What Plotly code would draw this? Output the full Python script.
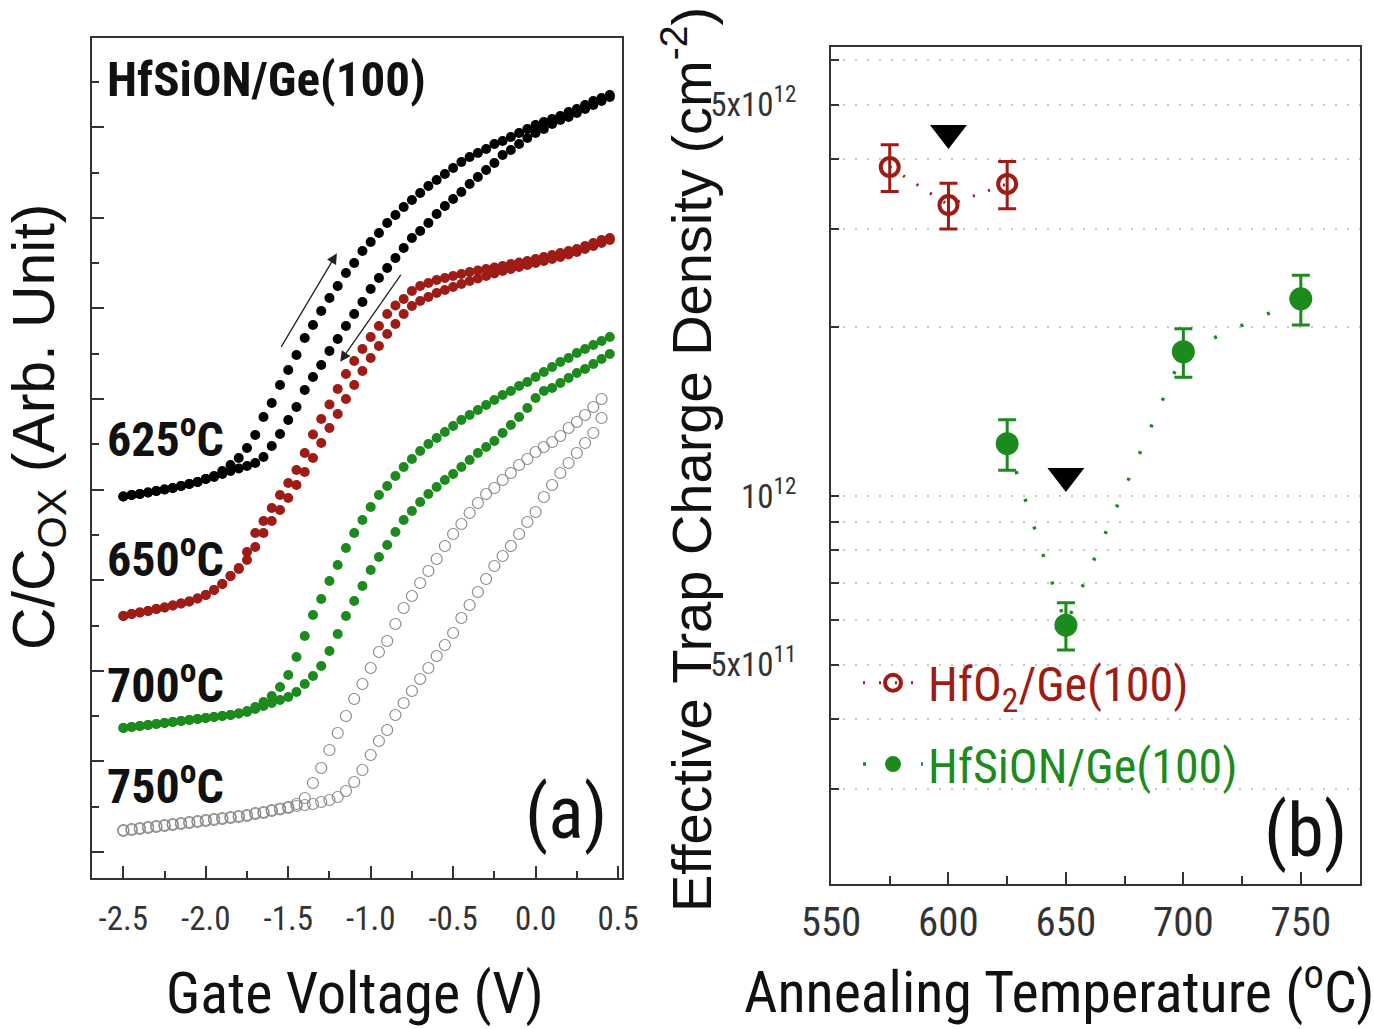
import plotly.graph_objects as go

# ---------------- Panel (a): C-V hysteresis curves ----------------
gate_voltage = [-2.50, -2.45, -2.40, -2.35, -2.30, -2.25, -2.20, -2.15, -2.10, -2.05,
                -2.00, -1.95, -1.90, -1.85, -1.80, -1.75, -1.70, -1.65, -1.60, -1.55,
                -1.50, -1.45, -1.40, -1.35, -1.30, -1.25, -1.20, -1.15, -1.10, -1.05,
                -1.00, -0.95, -0.90, -0.85, -0.80, -0.75, -0.70, -0.65, -0.60, -0.55,
                -0.50, -0.45, -0.40, -0.35, -0.30, -0.25, -0.20, -0.15, -0.10, -0.05,
                0.00, 0.05, 0.10, 0.15, 0.20, 0.25, 0.30, 0.35, 0.40, 0.45]

c625_up = [4.035, 4.05, 4.06, 4.075, 4.09, 4.105, 4.12, 4.14, 4.16, 4.18,
           4.21, 4.24, 4.29, 4.35, 4.42, 4.52, 4.65, 4.83, 4.97, 5.15,
           5.30, 5.45, 5.62, 5.75, 5.89, 6.02, 6.14, 6.27, 6.37, 6.49,
           6.58, 6.67, 6.77, 6.85, 6.93, 7.00, 7.07, 7.14, 7.20, 7.26,
           7.32, 7.38, 7.43, 7.47, 7.51, 7.56, 7.59, 7.63, 7.67, 7.71,
           7.75, 7.78, 7.81, 7.84, 7.88, 7.91, 7.95, 7.99, 8.02, 8.05]
c625_down = [4.035, 4.05, 4.06, 4.075, 4.09, 4.105, 4.12, 4.14, 4.16, 4.18,
             4.21, 4.23, 4.26, 4.29, 4.315, 4.34, 4.37, 4.43, 4.54, 4.66,
             4.80, 4.93, 5.10, 5.23, 5.35, 5.49, 5.61, 5.74, 5.86, 5.98,
             6.11, 6.22, 6.32, 6.42, 6.52, 6.62, 6.69, 6.77, 6.86, 6.94,
             7.01, 7.08, 7.16, 7.23, 7.30, 7.37, 7.45, 7.50, 7.56, 7.62,
             7.67, 7.71, 7.76, 7.80, 7.83, 7.87, 7.91, 7.95, 7.99, 8.03]

c650_up = [2.84, 2.86, 2.875, 2.89, 2.91, 2.925, 2.945, 2.965, 2.985, 3.015,
           3.05, 3.10, 3.16, 3.24, 3.32, 3.48, 3.67, 3.79, 3.92, 4.05,
           4.17, 4.30, 4.47, 4.655, 4.81, 4.955, 5.11, 5.26, 5.39, 5.51,
           5.63, 5.74, 5.86, 5.945, 6.01, 6.09, 6.14, 6.17, 6.20, 6.22,
           6.24, 6.26, 6.28, 6.295, 6.31, 6.325, 6.34, 6.36, 6.375, 6.39,
           6.41, 6.43, 6.45, 6.47, 6.49, 6.51, 6.54, 6.57, 6.60, 6.62]
c650_down = [2.84, 2.86, 2.875, 2.89, 2.91, 2.925, 2.945, 2.965, 2.985, 3.015,
             3.05, 3.10, 3.16, 3.24, 3.31, 3.40, 3.53, 3.67, 3.79, 3.90,
             4.02, 4.15, 4.28, 4.42, 4.57, 4.72, 4.86, 5.01, 5.15, 5.29,
             5.42, 5.54, 5.66, 5.76, 5.86, 5.94, 5.99, 6.03, 6.07, 6.10,
             6.13, 6.16, 6.19, 6.215, 6.24, 6.265, 6.29, 6.31, 6.33, 6.35,
             6.37, 6.39, 6.41, 6.43, 6.455, 6.48, 6.51, 6.54, 6.57, 6.60]

c700_up = [1.72, 1.73, 1.74, 1.75, 1.76, 1.77, 1.78, 1.79, 1.80, 1.81,
           1.82, 1.83, 1.84, 1.85, 1.865, 1.89, 1.93, 1.98, 2.04, 2.13,
           2.25, 2.43, 2.64, 2.85, 3.01, 3.19, 3.35, 3.52, 3.67, 3.80,
           3.93, 4.05, 4.14, 4.24, 4.33, 4.41, 4.49, 4.56, 4.62, 4.68,
           4.74, 4.80, 4.85, 4.90, 4.95, 5.00, 5.05, 5.09, 5.14, 5.18,
           5.23, 5.28, 5.33, 5.38, 5.42, 5.47, 5.51, 5.55, 5.59, 5.63]
c700_down = [1.72, 1.73, 1.74, 1.75, 1.76, 1.77, 1.78, 1.79, 1.80, 1.81,
             1.82, 1.83, 1.84, 1.85, 1.865, 1.88, 1.91, 1.94, 1.97, 2.00,
             2.03, 2.08, 2.16, 2.24, 2.34, 2.49, 2.66, 2.84, 2.99, 3.14,
             3.30, 3.43, 3.55, 3.68, 3.80, 3.89, 3.98, 4.06, 4.13, 4.20,
             4.26, 4.33, 4.40, 4.47, 4.53, 4.59, 4.67, 4.75, 4.83, 4.92,
             5.02, 5.09, 5.12, 5.17, 5.22, 5.27, 5.31, 5.36, 5.41, 5.46]

c750_up = [0.70, 0.71, 0.72, 0.73, 0.74, 0.75, 0.76, 0.77, 0.78, 0.79,
           0.80, 0.81, 0.82, 0.83, 0.84, 0.85, 0.87, 0.88, 0.90, 0.915,
           0.93, 0.96, 1.02, 1.17, 1.32, 1.50, 1.67, 1.84, 2.01, 2.16,
           2.32, 2.48, 2.59, 2.76, 2.92, 3.04, 3.17, 3.29, 3.41, 3.54,
           3.66, 3.76, 3.87, 3.97, 4.06, 4.12, 4.20, 4.27, 4.35, 4.41,
           4.48, 4.53, 4.58, 4.64, 4.72, 4.78, 4.85, 4.93, 5.01]
c750_down = [0.69, 0.70, 0.71, 0.72, 0.73, 0.74, 0.75, 0.76, 0.77, 0.78,
             0.79, 0.80, 0.81, 0.82, 0.83, 0.84, 0.86, 0.87, 0.89, 0.905,
             0.92, 0.94, 0.95, 0.96, 0.98, 1.00, 1.03, 1.09, 1.18, 1.30,
             1.45, 1.59, 1.70, 1.85, 1.97, 2.09, 2.21, 2.32, 2.44, 2.55,
             2.67, 2.82, 2.95, 3.08, 3.21, 3.34, 3.44, 3.54, 3.66, 3.78,
             3.88, 4.03, 4.15, 4.27, 4.37, 4.47, 4.57, 4.67, 4.82]

x_ticks_a = [-2.5, -2.0, -1.5, -1.0, -0.5, 0.0, 0.5]
x_ticktext_a = ["-2.5", "-2.0", "-1.5", "-1.0", "-0.5", "0.0", "0.5"]

# ---------------- Panel (b): trap charge density ----------------
hfo2_temp = [575, 600, 625]
hfo2_dens = [3.87e12, 3.31e12, 3.61e12]
hfo2_err = [0.37e12, 0.31e12, 0.35e12]

hfsion_temp = [625, 650, 700, 750]
hfsion_dens = [1.24e12, 5.88e11, 1.81e12, 2.25e12]
hfsion_err = [0.128e12, 0.57e11, 0.18e12, 0.23e12]

marker_temp = [600, 650]
marker_dens = [4.45e12, 1.086e12]

x_ticks_b = [550, 600, 650, 700, 750]
y_ticks_b = [5e11, 1e12, 5e12]
y_ticktext_b = ["5x10<sup>11</sup>", "10<sup>12</sup>", "5x10<sup>12</sup>"]
y_minor_b = [3e11, 4e11, 6e11, 7e11, 8e11, 9e11, 2e12, 3e12, 4e12, 6e12]

RED = "#9e1b16"
GREEN = "#1c8a1c"
GRAY = "#8c8c8c"
FC = "Roboto Condensed, Liberation Sans, Arial, sans-serif"
FR = "Liberation Sans, Arial, sans-serif"

fig = go.Figure()

curves = [
    (c750_down, dict(symbol="circle-open", size=11, color=GRAY, line=dict(color=GRAY, width=1.2))),
    (c750_up, dict(symbol="circle-open", size=11, color=GRAY, line=dict(color=GRAY, width=1.2))),
    (c700_down, dict(symbol="circle", size=10, color=GREEN)),
    (c700_up, dict(symbol="circle", size=10, color=GREEN)),
    (c650_down, dict(symbol="circle", size=10, color=RED)),
    (c650_up, dict(symbol="circle", size=10, color=RED)),
    (c625_down, dict(symbol="circle", size=10, color="black")),
    (c625_up, dict(symbol="circle", size=10, color="black")),
]
for yv, mk in curves:
    fig.add_trace(go.Scatter(x=gate_voltage[:len(yv)], y=yv, mode="markers", marker=mk,
                             xaxis="x", yaxis="y", showlegend=False, hoverinfo="x+y"))

fig.add_trace(go.Scatter(
    x=hfo2_temp, y=hfo2_dens, mode="lines+markers", xaxis="x2", yaxis="y2",
    name="<span style='color:%s'>HfO<sub>2</sub>/Ge(100)</span>" % RED,
    legendgroup="a",
    line=dict(color=RED, width=3, dash="2px,14px"),
    marker=dict(symbol="circle-open", size=18, color=RED, line=dict(color=RED, width=4)),
    error_y=dict(type="data", array=hfo2_err, color=RED, thickness=3, width=9)))
fig.add_trace(go.Scatter(
    x=hfsion_temp, y=hfsion_dens, mode="lines+markers", xaxis="x2", yaxis="y2",
    name="<span style='color:%s'>HfSiON/Ge(100)</span>" % GREEN,
    legendgroup="b",
    line=dict(color=GREEN, width=3.5, dash="3px,26px"),
    marker=dict(symbol="circle", size=23, color=GREEN),
    error_y=dict(type="data", array=hfsion_err, color=GREEN, thickness=3, width=9)))
fig.add_trace(go.Scatter(
    x=marker_temp, y=marker_dens, mode="markers", xaxis="x2", yaxis="y2",
    showlegend=False, marker=dict(symbol="triangle-down", size=32, color="black")))

W, H = 1374, 1029
def px(x):
    return x / W
def py(y):
    return 1 - y / H

axis_line = dict(showline=True, linecolor="#333", linewidth=2, mirror=True,
                 zeroline=False, showgrid=False)

fig.update_layout(
    width=W, height=H,
    margin=dict(l=0, r=0, t=0, b=0, autoexpand=False),
    paper_bgcolor="white", plot_bgcolor="white",
    font=dict(family=FC, color="#222"),
    xaxis=dict(domain=[px(92), px(622)], range=[-2.69, 0.524], anchor="y",
               tickmode="array", tickvals=x_ticks_a, ticktext=x_ticktext_a,
               ticks="inside", ticklen=12, tickwidth=2, tickcolor="#333",
               minor=dict(dtick=0.25, tick0=-2.5, ticks="inside", ticklen=7, tickwidth=2, tickcolor="#333"),
               tickfont=dict(family=FC, size=33, color="#333"), ticklabelstandoff=10,
               **axis_line),
    yaxis=dict(domain=[py(878), py(38)], range=[0.22, 8.62], anchor="x",
               tick0=0.48, dtick=0.906, showticklabels=False,
               ticks="inside", ticklen=12, tickwidth=2, tickcolor="#333",
               minor=dict(dtick=0.453, tick0=0.48, ticks="inside", ticklen=7, tickwidth=2, tickcolor="#333"),
               **axis_line),
    xaxis2=dict(domain=[px(831), px(1360)], range=[550, 775.2], anchor="y2",
                tickmode="array", tickvals=x_ticks_b,
                ticks="inside", ticklen=12, tickwidth=2, tickcolor="#333",
                minor=dict(dtick=25, tick0=550, ticks="inside", ticklen=8, tickwidth=2, tickcolor="#333"),
                tickfont=dict(family=FC, size=41, color="#333"), ticklabelstandoff=1,
                **axis_line),
    yaxis2=dict(domain=[py(884), py(47)], type="log", range=[11.307, 12.802], anchor="x2",
                tickmode="array", tickvals=y_ticks_b, ticktext=y_ticktext_b,
                ticks="inside", ticklen=8, tickwidth=2, tickcolor="#333",
                tickfont=dict(family=FC, size=33, color="#333"), ticklabelstandoff=26,
                showline=True, linecolor="#333", linewidth=2, mirror=True, zeroline=False,
                showgrid=True, gridcolor="#c8c8c8", gridwidth=2, griddash="2px,10px",
                minor=dict(tickmode="array", tickvals=y_minor_b, ticks="inside", ticklen=8,
                           tickwidth=2, tickcolor="#333", showgrid=True, gridcolor="#c8c8c8",
                           gridwidth=2, griddash="2px,10px")),
    legend=dict(x=px(858), y=py(645), xanchor="left", yanchor="top",
                bgcolor="rgba(0,0,0,0)", font=dict(family=FC, size=48),
                itemwidth=60, tracegroupgap=16, traceorder="grouped"),
    showlegend=True,
)

fig.add_shape(type="line", xref="x2 domain", yref="y2", x0=0, x1=1, y0=12, y1=12,
              line=dict(color="#c8c8c8", width=2), layer="below")

ann = []
def add_text(text, x, y, size, family=FC, angle=0, xanchor="center", color="#111"):
    ann.append(dict(text=text, x=px(x), y=py(y), xref="paper", yref="paper",
                    showarrow=False, xanchor=xanchor, yanchor="middle", textangle=angle,
                    font=dict(family=family, size=size, color=color)))

add_text("<b>HfSiON/Ge(100)</b>", 105, 80, 49, xanchor="left")
add_text("<b>625<sup>o</sup>C</b>", 105, 436, 48, xanchor="left")
add_text("<b>650<sup>o</sup>C</b>", 105, 556, 48, xanchor="left")
add_text("<b>700<sup>o</sup>C</b>", 105, 682, 48, xanchor="left")
add_text("<b>750<sup>o</sup>C</b>", 105, 783, 48, xanchor="left")
add_text("(a)", 566, 812, 74)
add_text("(b)", 1305, 830, 74)
add_text("Gate Voltage (V)", 355, 993, 58)
add_text("Annealing Temperature (<sup>o</sup>C)", 1059, 988, 58)
add_text("C/C<sub>OX</sub> (Arb. Unit)", 38, 427, 59, family=FR, angle=-90)
add_text("Effective Trap Charge Density (cm<sup>-2</sup>)", 687, 460, 56, family=FR, angle=-90)

# hysteresis sweep-direction arrows
ann.append(dict(x=-1.205, y=6.467, ax=-1.548, ay=5.517, xref="x", yref="y", axref="x", ayref="y",
                text="", showarrow=True, arrowhead=2, arrowsize=1.6, arrowwidth=1.3, arrowcolor="#222"))
ann.append(dict(x=-1.185, y=5.383, ax=-0.811, ay=6.267, xref="x", yref="y", axref="x", ayref="y",
                text="", showarrow=True, arrowhead=2, arrowsize=1.6, arrowwidth=1.3, arrowcolor="#222"))
fig.update_layout(annotations=ann)

fig.write_html("out.html")
